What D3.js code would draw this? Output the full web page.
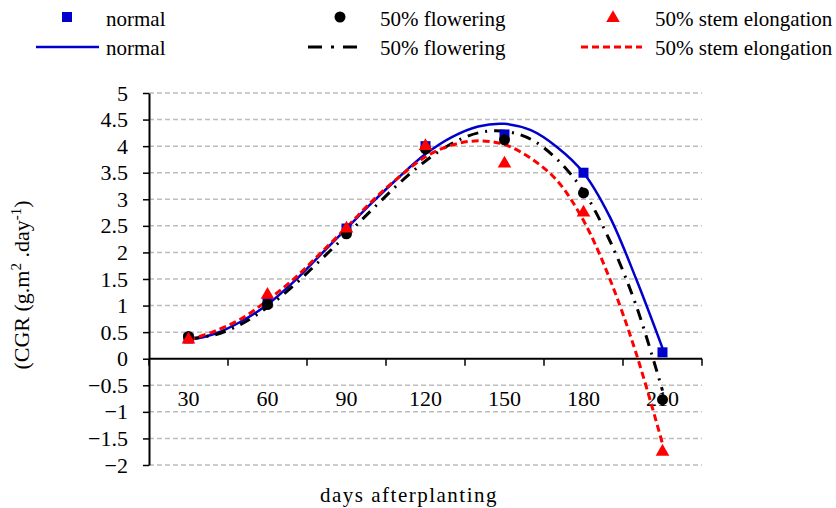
<!DOCTYPE html>
<html>
<head>
<meta charset="utf-8">
<script src="https://cdn.jsdelivr.net/npm/d3@7"></script>
<style>
  body { margin: 0; background: #fff; }
</style>
</head>
<body>
<script>
const days = [30, 60, 90, 120, 150, 180, 210];
const yTicks = [5, 4.5, 4, 3.5, 3, 2.5, 2, 1.5, 1, 0.5, 0, -0.5, -1, -1.5, -2];

// measured points
const normalPts = [0.38, 1.05, 2.45, 4.0, 4.22, 3.5, 0.12];
const floweringPts = [0.42, 1.02, 2.35, 3.95, 4.12, 3.12, -0.77];
const stemPts = [0.36, 1.2, 2.45, 4.0, 3.67, 2.75, -1.75];

// fitted trend curves
const curveDays = [30, 40, 50, 60, 70, 80, 90, 100, 110, 120, 130, 140, 150, 160, 170, 180, 190, 200, 210];
const normalFit = [0.35, 0.47, 0.7, 1.02, 1.45, 1.95, 2.45, 2.95, 3.42, 3.85, 4.17, 4.37, 4.42, 4.3, 3.98, 3.5, 2.67, 1.5, 0.2];
const floweringFit = [0.38, 0.45, 0.65, 0.97, 1.38, 1.85, 2.33, 2.82, 3.3, 3.72, 4.05, 4.25, 4.28, 4.13, 3.75, 3.15, 2.22, 1.0, -0.6];
const stemFit = [0.35, 0.52, 0.75, 1.1, 1.5, 1.98, 2.47, 2.98, 3.42, 3.8, 4.02, 4.1, 4.03, 3.77, 3.35, 2.6, 1.5, 0.1, -1.6];

const FONT = 'Liberation Serif';
const width = 836, height = 508;
const margin = { top: 93, right: 134, bottom: 43, left: 149 };

const svg = d3.select('body').append('svg')
  .attr('width', width)
  .attr('height', height)
  .style('font-family', FONT);

const x = d3.scaleBand().domain(days).range([margin.left, width - margin.right]).padding(0);
const bw = x.bandwidth();
const xc = (d) => x(d) + bw / 2;
const xLin = d3.scaleLinear().domain([30, 210]).range([xc(30), xc(210)]);
const y = d3.scaleLinear().domain([-2, 5]).range([height - margin.bottom, margin.top]);

// grid
svg.append('g')
  .selectAll('line')
  .data(yTicks.filter((d) => d !== 0))
  .join('line')
  .attr('x1', margin.left)
  .attr('x2', width - margin.right)
  .attr('y1', (d) => y(d))
  .attr('y2', (d) => y(d))
  .attr('stroke', '#bdbdbd')
  .attr('stroke-width', 1.5)
  .attr('stroke-dasharray', '5,3');

// y axis
const yAxis = svg.append('g')
  .attr('transform', `translate(${margin.left},0)`)
  .call(d3.axisLeft(y).tickValues(yTicks).tickSize(6).tickSizeOuter(0).tickFormat(d3.format('')));
yAxis.attr('font-family', null);
yAxis.select('.domain').attr('stroke', '#000').attr('stroke-width', 2);
yAxis.selectAll('.tick line').attr('stroke', '#000').attr('stroke-width', 1.5);
yAxis.selectAll('.tick text')
  .attr('x', -21)
  .attr('font-size', 22)
  .attr('fill', '#000');

// x axis at zero, ticks between categories
const xAxisG = svg.append('g').attr('transform', `translate(0,${y(0)})`);
xAxisG.append('line')
  .attr('x1', margin.left).attr('x2', width - margin.right)
  .attr('stroke', '#000').attr('stroke-width', 2);
xAxisG.selectAll('.tk')
  .data(days.concat([null]))
  .join('line')
  .attr('class', 'tk')
  .attr('x1', (d) => (d === null ? x(210) + bw : x(d)))
  .attr('x2', (d) => (d === null ? x(210) + bw : x(d)))
  .attr('y1', 0).attr('y2', 7)
  .attr('stroke', '#000').attr('stroke-width', 1.5);
xAxisG.selectAll('.lbl')
  .data(days)
  .join('text')
  .attr('class', 'lbl')
  .attr('x', (d) => xc(d))
  .attr('y', 47)
  .attr('text-anchor', 'middle')
  .attr('font-size', 22)
  .text((d) => d);

// axis titles
svg.append('text')
  .attr('transform', `translate(29,285) rotate(-90)`)
  .attr('text-anchor', 'middle')
  .attr('font-size', 22)
  .html('(CGR (g.m<tspan dy="-8" font-size="15">2</tspan><tspan dy="8"> .day</tspan><tspan dy="-8" font-size="15">-1</tspan><tspan dy="8">)</tspan>');

svg.append('text')
  .attr('x', 409)
  .attr('y', 502)
  .attr('text-anchor', 'middle')
  .attr('font-size', 21)
  .attr('letter-spacing', 1.5)
  .text('days afterplanting');

// fitted curves
const line = d3.line()
  .x((d) => xLin(d[0]))
  .y((d) => y(d[1]))
  .curve(d3.curveCatmullRom);

const fits = [
  { vals: normalFit, color: '#0000cc', dash: null, w: 2.5 },
  { vals: floweringFit, color: '#000', dash: '11,7,2,7', w: 3 },
  { vals: stemFit, color: '#ff0000', dash: '7,4', w: 3 },
];
fits.forEach((f) => {
  svg.append('path')
    .datum(curveDays.map((d, i) => [d, f.vals[i]]))
    .attr('fill', 'none')
    .attr('stroke', f.color)
    .attr('stroke-width', f.w)
    .attr('stroke-dasharray', f.dash)
    .attr('d', line);
});

// markers
svg.append('g').selectAll('rect')
  .data(normalPts)
  .join('rect')
  .attr('x', (d, i) => xc(days[i]) - 5)
  .attr('y', (d) => y(d) - 5)
  .attr('width', 10).attr('height', 10)
  .attr('fill', '#0000cc');

svg.append('g').selectAll('circle')
  .data(floweringPts)
  .join('circle')
  .attr('cx', (d, i) => xc(days[i]))
  .attr('cy', (d) => y(d))
  .attr('r', 5.5)
  .attr('fill', '#000');

const tri = d3.symbol().type(d3.symbolTriangle).size(80);
svg.append('g').selectAll('path')
  .data(stemPts)
  .join('path')
  .attr('transform', (d, i) => `translate(${xc(days[i])},${y(d)})`)
  .attr('d', tri)
  .attr('fill', '#ff0000');

// legend
const leg = svg.append('g');
const legendItems = [
  { label: 'normal', mx: 67, tx: 106, lx1: 36, lx2: 99 },
  { label: '50% flowering', mx: 340, tx: 380, lx1: 308, lx2: 363 },
  { label: '50% stem elongation', mx: 613, tx: 655, lx1: 581, lx2: 642 },
];
leg.append('rect').attr('x', legendItems[0].mx - 5).attr('y', 12).attr('width', 10).attr('height', 10).attr('fill', '#0000cc');
leg.append('circle').attr('cx', legendItems[1].mx).attr('cy', 17).attr('r', 5.5).attr('fill', '#000');
leg.append('path').attr('transform', `translate(${legendItems[2].mx},18)`).attr('d', tri).attr('fill', '#ff0000');
legendItems.forEach((it, i) => {
  leg.append('text').attr('x', it.tx).attr('y', 26).attr('font-size', 21).text(it.label);
  leg.append('text').attr('x', it.tx).attr('y', 55).attr('font-size', 21).text(it.label);
  leg.append('line')
    .attr('x1', it.lx1).attr('x2', it.lx2)
    .attr('y1', 47).attr('y2', 47)
    .attr('stroke', fits[i].color)
    .attr('stroke-width', fits[i].w)
    .attr('stroke-dasharray', i === 1 ? '14,9,3,9' : fits[i].dash);
});
</script>
</body>
</html>
